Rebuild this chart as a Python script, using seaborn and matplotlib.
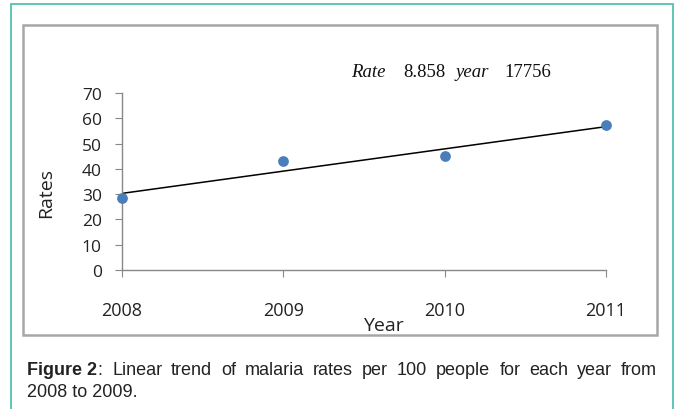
import matplotlib
matplotlib.use('Agg')
import matplotlib.pyplot as plt
import matplotlib.patches as patches
import seaborn as sns
import pandas as pd

# data
years = [2008, 2009, 2010, 2011]
rates = [28.6, 43.0, 45.2, 57.2]
year_ticks = [2008, 2009, 2010, 2011]
rate_ticks = [0, 10, 20, 30, 40, 50, 60, 70]

df = pd.DataFrame({'Year': years, 'Rates': rates})

sns.set_style('white')
plt.rcParams['font.family'] = ['Open Sans', 'DejaVu Sans']

W, H = 680, 410
fig = plt.figure(figsize=(W / 100, H / 100), dpi=100)

def fx(x):
    return x / W

def fy(y):
    return 1 - y / H

# outer teal frame and inner grey chart frame
fig.patches.append(patches.Rectangle((fx(11), fy(420)), fx(673) - fx(11), fy(5) - fy(420),
                                     transform=fig.transFigure, fill=False,
                                     edgecolor='#52c2b2', linewidth=1.3))
fig.patches.append(patches.Rectangle((fx(23), fy(336)), fx(657) - fx(23), fy(26) - fy(336),
                                     transform=fig.transFigure, fill=False,
                                     edgecolor='#a6a6a6', linewidth=1.8))

ax = fig.add_axes([fx(122), fy(271), fx(606) - fx(122), fy(94) - fy(271)])
sns.regplot(data=df, x='Year', y='Rates', ci=None, ax=ax,
            scatter_kws={'color': '#4a7ebb', 's': 45, 'alpha': 1, 'zorder': 3, 'clip_on': False},
            line_kws={'color': 'black', 'linewidth': 1.1})

ax.set_xlim(2008, 2011)
ax.set_ylim(0, 70)
ax.set_xticks(year_ticks)
ax.set_xticklabels([str(y) for y in year_ticks])
ax.set_yticks(rate_ticks)
for s in ['top', 'right']:
    ax.spines[s].set_visible(False)
for s in ['left', 'bottom']:
    ax.spines[s].set_color('#888888')
    ax.spines[s].set_linewidth(1.0)
ax.tick_params(axis='y', direction='out', length=5, color='#888888', labelsize=12.5, pad=9.5,
               left=True, labelcolor='#222222')
ax.tick_params(axis='x', direction='out', length=5, color='#888888', labelsize=13, pad=17,
               bottom=True, labelcolor='#222222')
ax.set_xlabel('Year', fontsize=14, color='#222222')
ax.set_ylabel('Rates', fontsize=14, color='#222222')
ax.xaxis.set_label_coords((383 - 122) / 484, (271 - 326) / 177)
ax.yaxis.set_label_coords((46 - 122) / 484, (271 - 193) / 177)
ax.xaxis.label.set_va('center')
ax.yaxis.label.set_va('center')

# regression equation (as shown, symbols lost)
eq = [('Rate', 351, 'italic'), ('8.858', 403, 'normal'), ('year', 456, 'italic'), ('17756', 504, 'normal')]
for txt, x, st in eq:
    fig.text(fx(x), fy(73), txt, family='Liberation Serif', style=st, fontsize=13.5,
             color='#111111', va='center', ha='left')

# caption, first line justified to the frame width
cap_font = ['Liberation Sans', 'DejaVu Sans']
words = [('Figure 2:', 'bold')] + [(w, 'normal') for w in
         'Linear trend of malaria rates per 100 people for each year from'.split()]
fig.canvas.draw()
r = fig.canvas.get_renderer()
objs = []
for w, wt in words:
    t = fig.text(0, fy(371), w, family=cap_font, fontweight=wt, fontsize=13,
                 color='#222222', va='center', ha='left')
    objs.append(t)
widths = [t.get_window_extent(r).width for t in objs]
# "Figure 2" bold, colon regular
objs[0].set_text('Figure 2')
objs[0].set_x(fx(27))
wb = objs[0].get_window_extent(r).width
colon = fig.text(fx(27) + wb / W, fy(371), ':', family=cap_font, fontsize=13,
                 color='#222222', va='center', ha='left')
left, right = 27, 657
gap = (right - left - sum(widths)) / (len(words) - 1)
x = left + widths[0] + gap
for t, w in zip(objs[1:], widths[1:]):
    t.set_x(fx(x))
    x += w + gap
fig.text(fx(27), fy(393), '2008 to 2009.', family=cap_font, fontsize=13,
         color='#222222', va='center', ha='left')

fig.savefig('out.png', dpi=100)
